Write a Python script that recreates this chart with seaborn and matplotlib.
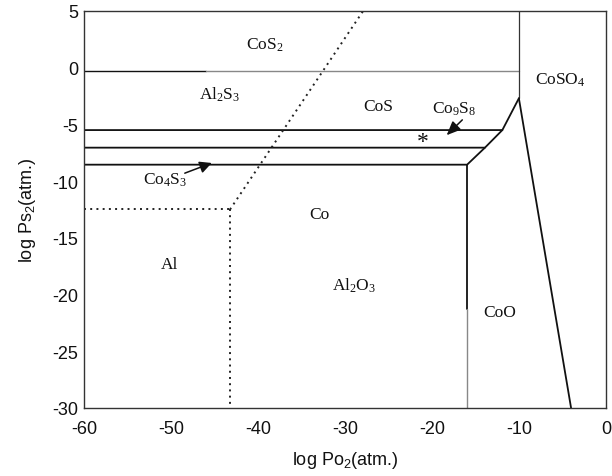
import matplotlib
matplotlib.use("Agg")
import matplotlib.pyplot as plt
import seaborn as sns
import pandas as pd

# ---- data ----
# solid Co-S-O boundaries
cos2_cos_x = [-60, -46]            # black part of the CoS2 / sulfide boundary
cos2_cos_y = [-0.3, -0.3]
cos2_cos_gray_x = [-46, -10]
cos2_cos_gray_y = [-0.3, -0.3]
coso4_top_x = [-10, -10]
coso4_top_y = [5, -2.7]
coso4_coo_x = [-10, -4]
coso4_coo_y = [-2.7, -30]
cos_co9s8_x = [-60, -11.9, -10]
cos_co9s8_y = [-5.5, -5.5, -2.7]
co9s8_co4s3_x = [-60, -13.9, -11.9]
co9s8_co4s3_y = [-7.05, -7.05, -5.5]
co4s3_co_x = [-60, -15.95, -13.9]
co4s3_co_y = [-8.55, -8.55, -7.05]
co_coo_x = [-15.95, -15.95]
co_coo_y = [-8.55, -21.3]
co_coo_gray_x = [-15.95, -15.95]
co_coo_gray_y = [-21.3, -30]

# dotted Al-S-O boundaries
al_dot_h_x = [-60, -43.2]
al_dot_h_y = [-12.5, -12.5]
al_dot_v_x = [-43.2, -43.2]
al_dot_v_y = [-12.5, -30]
al_dot_d_x = [-43.2, -27.9]
al_dot_d_y = [-12.5, 5]

# phase labels
labels = ["CoS$_2$", "Al$_2$S$_3$", "CoS", "Co$_9$S$_8$", "CoSO$_4$", "Co$_4$S$_3$",
          "Co", "Al", "Al$_2$O$_3$", "CoO"]
label_x = [-39.2, -44.4, -26.2, -17.4, -5.3, -50.7, -32.9, -50.1, -28.9, -12.2]
label_y = [2.1, -2.3, -3.4, -3.6, -1.0, -9.8, -12.9, -17.3, -19.1, -21.5]

x_ticks = [-60, -50, -40, -30, -20, -10, 0]
y_ticks = [5, 0, -5, -10, -15, -20, -25, -30]

# ---- figure ----
sns.set_theme(style="white")
plt.rcParams["font.family"] = ["Liberation Sans", "DejaVu Sans"]
plt.rcParams["mathtext.default"] = "regular"

fig = plt.figure(figsize=(6.12, 4.77), dpi=100)
ax = fig.add_axes([0.137, 0.1426, 0.853, 0.8323])


def seg(xs, ys, color="black", lw=1.1, ls="-"):
    df = pd.DataFrame({"x": xs, "y": ys})
    sns.lineplot(data=df, x="x", y="y", sort=False, estimator=None,
                 color=color, lw=lw, ls=ls, ax=ax)


seg(cos2_cos_x, cos2_cos_y, color="#111111", lw=1.0)
seg(cos2_cos_gray_x, cos2_cos_gray_y, color="#888888", lw=1.0)
seg(coso4_top_x, coso4_top_y, color="#333333", lw=0.9)
seg(coso4_coo_x, coso4_coo_y, color="#111111", lw=1.3)
seg(cos_co9s8_x, cos_co9s8_y, color="#111111", lw=1.3)
seg(co9s8_co4s3_x, co9s8_co4s3_y, color="#111111", lw=1.3)
seg(co4s3_co_x, co4s3_co_y, color="#111111", lw=1.3)
seg(co_coo_x, co_coo_y, color="#111111", lw=1.3)
seg(co_coo_gray_x, co_coo_gray_y, color="#888888", lw=1.0)

for xs, ys in [(al_dot_h_x, al_dot_h_y), (al_dot_v_x, al_dot_v_y), (al_dot_d_x, al_dot_d_y)]:
    seg(xs, ys, color="#222222", lw=1.4, ls=(0, (1, 2.2)))

serif = ["Liberation Serif", "DejaVu Serif"]
for t, x, y in zip(labels, label_x, label_y):
    ax.text(x, y, t, ha="center", va="center", fontsize=12.5, family=serif,
            color="#111111")

# asterisk
ax.text(-21.0, -6.5, "*", ha="center", va="center", fontsize=17, family=serif,
        color="#111111")

# arrows
ax.annotate("", xy=(-18.3, -5.95), xytext=(-16.5, -4.6),
            arrowprops=dict(arrowstyle="-|>,head_length=0.7,head_width=0.3",
                            color="#111111", lw=1.1, shrinkA=0, shrinkB=0))
ax.annotate("", xy=(-45.3, -8.4), xytext=(-48.4, -9.3),
            arrowprops=dict(arrowstyle="-|>,head_length=0.6,head_width=0.3",
                            color="#111111", lw=1.1, shrinkA=0, shrinkB=0))

ax.set_xlim(-60, 0)
ax.set_ylim(-30, 5)
ax.set_xticks(x_ticks)
ax.set_yticks(y_ticks)
ax.set_xticklabels([str(v) for v in x_ticks], fontsize=13)
ax.set_yticklabels([str(v) for v in y_ticks], fontsize=13)
ax.tick_params(axis="x", direction="in", length=5, width=1, pad=9, colors="#111111")
ax.tick_params(axis="y", direction="in", length=0, pad=4, colors="#111111")
ax.set_xlabel("log Po$_2$(atm.)", fontsize=13, labelpad=8, color="#111111")
ax.set_ylabel("log Ps$_2$(atm.)", fontsize=13, labelpad=10, color="#111111")

for s in ax.spines.values():
    s.set_color("#333333")
    s.set_linewidth(1.0)

fig.savefig("out.png", dpi=100)
